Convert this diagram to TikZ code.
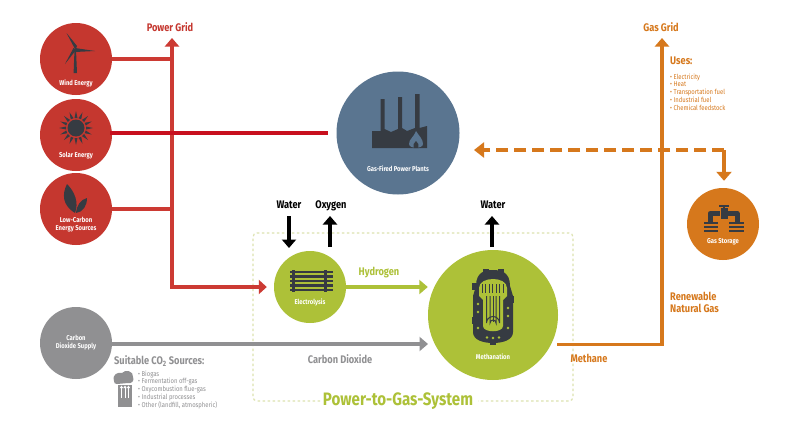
\documentclass[tikz,border=0pt]{standalone}
\usepackage{fontspec}
\setmainfont[FakeStretch=0.84]{Fira Sans}
\usetikzlibrary{arrows.meta}
\definecolor{redc}{HTML}{C5372F}
\definecolor{redl}{HTML}{CC3A33}
\definecolor{redd}{HTML}{C80F1E}
\definecolor{bluec}{HTML}{5A7590}
\definecolor{grayc}{HTML}{909092}
\definecolor{greenc}{HTML}{ADC138}
\definecolor{orangec}{HTML}{D6781C}
\definecolor{icon}{HTML}{363B42}
\definecolor{dashc}{HTML}{DDE3B0}
\tikzset{
  disc/.style={circle,inner sep=0pt,minimum size=#1},
  caption/.style={text=white,font=\fontsize{7}{8}\selectfont\bfseries,align=center,inner sep=0pt},
  flowlabel/.style={font=\fontsize{11}{12}\selectfont\bfseries,inner sep=0pt,align=left},
  smalllist/.style={font=\fontsize{7}{7.8}\selectfont,inner sep=0pt,align=left,anchor=north west},
  redline/.style={draw=redl,line width=3.5pt},
  grayline/.style={draw=grayc,line width=3.5pt},
  orangeline/.style={draw=orangec,line width=3.5pt},
  greenline/.style={draw=greenc,line width=3.5pt},
  blackline/.style={draw=black,line width=3.5pt},
  tip/.style={-{Triangle[width=14pt,length=8.5pt]}},
}
\begin{document}
\begin{tikzpicture}[x=1pt,y=-1pt]
\useasboundingbox (0,0) rectangle (800,423);
\fill[white] (0,0) rectangle (800,423);

% system boundary
\draw[dashc,line width=1.2pt,dash pattern=on 2.5pt off 2.5pt,rounded corners=4pt]
  (320,401) -- (253,401) -- (253,233) -- (573,233) -- (573,401) -- (478,401);
\node[font=\fontsize{18}{20}\selectfont\bfseries,text=greenc,inner sep=0pt] (system) at (398,401) {Power-to-Gas-System};

% process discs
\node[disc=72pt,fill=redc] (wind) at (76,59) {};
\node[disc=72pt,fill=redc] (solar) at (76,135) {};
\node[disc=72pt,fill=redc] (lowc) at (76,209) {};
\node[disc=123pt,fill=bluec] (plant) at (398,133) {};
\node[disc=72pt,fill=grayc] (co2) at (76,343) {};
\node[disc=72pt,fill=greenc] (elec) at (310,287) {};
\node[disc=130pt,fill=greenc] (meth) at (493,315) {};
\node[disc=72pt,fill=orangec] (store) at (723,224) {};

% helper points for the trunks and open ends
\coordinate (powertop) at (172,38);
\coordinate (gastop) at (662,38);
\coordinate (gascorner) at (662,344.5);
\coordinate (junction) at (724,150);
\coordinate (solarout) at (110,133);
\coordinate (waterin) at (289,216);
\coordinate (oxyout) at (330,216);
\coordinate (waterout) at (492,216);

% electricity connections
\draw[redline] (wind.east) -- (wind.east -| powertop);
\draw[redline] (lowc.east) -- (lowc.east -| powertop);
\draw[redline,tip] (172,287) -- (powertop);
\draw[redline,-{Triangle[width=14pt,length=8pt]},shorten >=7pt] (172,285.25) -- (172,287) -- (elec.west);
\draw[draw=redd,line width=3.5pt,shorten >=8pt] (solarout) -- (plant.west |- solarout);

% carbon dioxide
\draw[grayline,tip] (co2.east |- 0,344) -- (428,344);

% hydrogen
\draw[greenline,tip] (elec.east) -- (meth.west |- elec.east);

% water and oxygen
\draw[blackline,tip] (waterin) -- (289,248);
\draw[blackline,tip] (330,247) -- (oxyout);
\draw[blackline,tip] (492,247) -- (waterout);

% methane to gas grid
\draw[orangeline,tip] (557,344.5) -- (gascorner) -- (gastop);
\draw[orangeline,dash pattern=on 12pt off 6pt,-{Triangle[width=15pt,length=10pt]}] (junction) -- (474,150);
\draw[orangeline,-{Triangle[width=15pt,length=9pt]},shorten >=7pt] (junction) -- (store.north -| junction);

% wind turbine
\fill[icon] (73.6,73) -- (74.5,50) -- (76,50) -- (77,73) -- cycle;
\fill[icon] (75.5,50) -- (66.5,33) -- (77,46) -- cycle;
\fill[icon] (75,48) -- (95,51) -- (75,52) -- cycle;
\fill[icon] (76,50) -- (65,64) -- (73.5,48) -- cycle;
\fill[icon] (75.3,50) circle (1.8);

% sun
\fill[icon] (76,128) circle (8.5);
\foreach \a in {0,22.5,...,337.5}{
  \fill[icon,shift={(76,128)},rotate=\a] (10,-1.5) -- (17,0) -- (10,1.5) -- cycle;
}

% leaves
\fill[icon] (75,213) .. controls (62,205) and (62,194) .. (67,184) .. controls (75,192) and (79,203) .. (75,213) -- cycle;
\fill[icon] (76,213) .. controls (77,205) and (80,200) .. (87,198) .. controls (87,206) and (83,212) .. (76,213) -- cycle;

% power plant
\fill[icon] (372,148) -- (372,131) -- (380.5,131) -- (380.5,99) -- (384.5,99) -- (384.5,129) -- (391,132) -- (398,129)
  -- (398,97) -- (402,97) -- (402,128) -- (407,131) -- (415,128) -- (415,94) -- (419.5,94) -- (419.5,128) -- (427,126) -- (427,148) -- cycle;
\fill[bluec] (416,131) .. controls (419,136) and (423,139) .. (423,144) .. controls (423,149) and (409,149) .. (409,144) .. controls (409,139) and (414,137) .. (416,131) -- cycle;
\fill[icon] (416,141) .. controls (418,143) and (419.5,145) .. (418.5,148) -- (413.5,148) .. controls (412.5,145) and (414,143) .. (416,141) -- cycle;

% electrolysis stack
\foreach \y in {272,276.5,281,285.5,290}{
  \fill[icon] (290,\y-1.2) rectangle (333,\y+1.2);
}
\foreach \x in {293,325}{
  \fill[icon] (\x-1.5,270) rectangle (\x+1.5,292);
}

% methanation reactor: shell with nozzles
\fill[icon] (476,286) .. controls (476,272) and (485,270) .. (493,270) .. controls (501,270) and (510,272) .. (510,286)
  -- (513,296) -- (513,332) .. controls (513,340) and (503,343) .. (493,343) .. controls (483,343) and (473,340) .. (473,332) -- (473,296) -- cycle;
\fill[icon] (483,269) rectangle (489,274);
\fill[icon] (498,269) rectangle (504,274);
\fill[icon] (490,341) rectangle (496,345);
\fill[icon] (472,283) rectangle (476,290);
\fill[icon] (510,296) rectangle (514,303);
\fill[icon] (472,317) rectangle (476,324);
% reactor interior
\fill[greenc] (479,288) .. controls (479,276) and (507,276) .. (507,288) -- (507,296) -- (503,300) -- (503,326) .. controls (503,333) and (483,333) .. (483,326) -- (483,300) -- (479,296) -- cycle;
\foreach \x in {482,485.5,489,492.5,496,499.5,503}{
  \draw[icon,line width=1pt] (\x,284) -- (\x,293);
}
\foreach \r in {3,6.5}{
  \draw[icon,line width=1pt] (493-\r,296) -- (493-\r,323) arc[start angle=180,end angle=360,radius=\r] -- (493+\r,296);
}
\draw[icon,line width=1pt] (493,296) -- (493,322);
\foreach \p in {(478,304),(478,312),(508,308),(508,316),(478,328),(508,328),(487,337.5),(493,338),(499,337.5)}{
  \fill[greenc] \p circle (1.4);
}

% gas storage valves
\draw[icon,line width=5pt,line join=round] (710,222) -- (710,213.5) -- (720,213.5) (737,222) -- (737,213.5) -- (727,213.5);
\fill[icon] (720.5,208) rectangle (727.5,219);
\fill[icon] (719,204.5) rectangle (729,206.5);
\fill[icon] (722.8,205) rectangle (725.2,209);
\foreach \y in {221.5,225.5,229.5}{
  \fill[icon] (704,\y) rectangle (718,\y+2.6);
  \fill[icon] (729,\y) rectangle (744,\y+2.6);
}

% carbon source stack
\fill[grayc] (114,381) .. controls (112,374) and (118,372) .. (122,373) .. controls (125,369) and (134,371) .. (133,377) .. controls (135,381) and (131,384) .. (128,383) -- (117,384) .. controls (115,384) and (114,383) .. (114,381) -- cycle;
\fill[grayc] (118,385) rectangle (132,407);
\foreach \x in {121.5,125,128.5}{
  \draw[white,line width=.7pt,-{Triangle[width=3pt,length=2.5pt]}] (\x,398) -- (\x,385.5);
}

% disc captions
\node[caption] (windt) at (76,83) {Wind Energy};
\node[caption] (solart) at (76,156) {Solar Energy};
\node[caption] (lowt) at (76,225) {Low-Carbon\\Energy Sources};
\node[caption] (plantt) at (398,169) {Gas-Fired Power Plants};
\node[caption] (co2t) at (76,343) {Carbon\\Dioxide Supply};
\node[caption] (elect) at (310,302) {Electrolysis};
\node[caption] (metht) at (493,357) {Methanation};
\node[caption] (storet) at (723,242) {Gas Storage};

% flow labels
\node[flowlabel,text=redc] (gridp) at (170,27) {Power Grid};
\node[flowlabel,text=orangec] (gridg) at (661,27) {Gas Grid};
\node[flowlabel,text=black,anchor=base] (w1) at (289,208) {Water};
\node[flowlabel,text=black,anchor=base] (o1) at (331,208) {Oxygen};
\node[flowlabel,text=black,anchor=base] (w2) at (493,208) {Water};
\node[flowlabel,text=greenc] (h2) at (379,273) {Hydrogen};
\node[flowlabel,text=grayc] (cdl) at (340,359) {Carbon Dioxide};
\node[flowlabel,text=orangec,anchor=west] (rng) at (670,302) {Renewable\\Natural Gas};
\node[flowlabel,text=orangec] (ml) at (589,358) {Methane};
\node[flowlabel,text=orangec,anchor=west] (uses) at (670,61) {Uses:};
\node[smalllist,text=orangec] (uselist) at (670,73.5) {• Electricity\\• Heat\\• Transportation fuel\\• Industrial fuel\\• Chemical feedstock};
\node[flowlabel,text=grayc,anchor=west] (srch) at (114,361) {Suitable CO\textsubscript{2} Sources:};
\node[smalllist,text=grayc] (srclist) at (138,370.5) {• Biogas\\• Fermentation off-gas\\• Oxycombustion flue-gas\\• Industrial processes\\• Other (landfill, atmospheric)};
\end{tikzpicture}
\end{document}
